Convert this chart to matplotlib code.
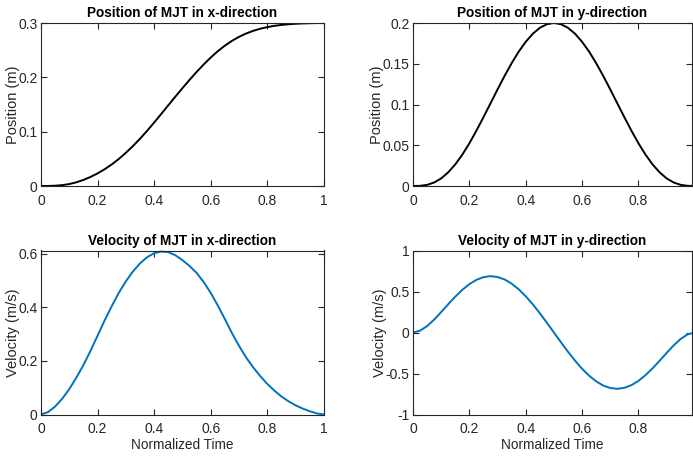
import matplotlib
matplotlib.use('Agg')
import matplotlib.pyplot as plt
import numpy as np

# normalized time samples (step 0.025)
t = [0.000, 0.025, 0.050, 0.075, 0.100, 0.125, 0.150, 0.175, 0.200, 0.225,
     0.250, 0.275, 0.300, 0.325, 0.350, 0.375, 0.400, 0.425, 0.450, 0.475,
     0.500, 0.525, 0.550, 0.575, 0.600, 0.625, 0.650, 0.675, 0.700, 0.725,
     0.750, 0.775, 0.800, 0.825, 0.850, 0.875, 0.900, 0.925, 0.950, 0.975, 1.000]

# position of the minimum jerk trajectory (m)
pos_x = [0.0, 0.0001, 0.0005, 0.0016, 0.0036, 0.0068, 0.0112, 0.0167, 0.0232, 0.0309,
         0.0397, 0.0498, 0.0612, 0.0736, 0.0871, 0.1016, 0.1169, 0.1327, 0.1487, 0.1646,
         0.1802, 0.1954, 0.2100, 0.2238, 0.2366, 0.2482, 0.2584, 0.2672, 0.2746, 0.2807,
         0.2856, 0.2895, 0.2925, 0.2948, 0.2965, 0.2977, 0.2986, 0.2992, 0.2996, 0.2999, 0.300]
pos_y = [0.0, 0.0002, 0.0014, 0.0043, 0.0093, 0.0168, 0.0265, 0.0385, 0.0524, 0.0679,
         0.0844, 0.1014, 0.1185, 0.1351, 0.1507, 0.1648, 0.1769, 0.1868, 0.1941, 0.1985,
         0.2000, 0.1985, 0.1941, 0.1868, 0.1769, 0.1648, 0.1507, 0.1351, 0.1185, 0.1014,
         0.0844, 0.0679, 0.0524, 0.0385, 0.0265, 0.0168, 0.0093, 0.0043, 0.0014, 0.0002, 0.0]

# velocity (m/s)
vel_x = [0.0, 0.009, 0.030, 0.059, 0.095, 0.138, 0.185, 0.238, 0.295, 0.352,
         0.405, 0.455, 0.498, 0.535, 0.565, 0.588, 0.603, 0.609, 0.607, 0.595,
         0.577, 0.555, 0.529, 0.495, 0.454, 0.407, 0.356, 0.304, 0.256, 0.213,
         0.176, 0.143, 0.114, 0.089, 0.067, 0.049, 0.034, 0.022, 0.012, 0.004, 0.0]
vel_y = [0.0, 0.022, 0.078, 0.157, 0.249, 0.345, 0.437, 0.520, 0.590, 0.642,
         0.675, 0.687, 0.677, 0.647, 0.596, 0.527, 0.442, 0.344, 0.235, 0.119,
         0.0, -0.119, -0.235, -0.344, -0.442, -0.527, -0.596, -0.647, -0.677, -0.687,
         -0.675, -0.642, -0.590, -0.520, -0.437, -0.345, -0.249, -0.157, -0.078, -0.022, 0.0]

txt = '#262626'
blue = '#0072BD'
plt.rcParams['font.family'] = ['Liberation Sans', 'DejaVu Sans']
plt.rcParams['font.size'] = 10

fig = plt.figure(figsize=(6.93, 4.57), dpi=100)
W, H = 693, 457
def box(x0, y0, x1, y1):
    return [x0 / W, 1 - y1 / H, (x1 - x0) / W, (y1 - y0) / H]

ax1 = fig.add_axes(box(41, 23, 324, 186))
ax2 = fig.add_axes(box(413, 23, 692, 186))
ax3 = fig.add_axes(box(41, 250.5, 324, 414.5))
ax4 = fig.add_axes(box(413, 250.5, 692, 414.5))

ax1.plot(t, pos_x, c='k', lw=1.4)
ax2.plot(t, pos_y, c='k', lw=1.4)
ax3.plot(t, vel_x, c=blue, lw=1.4)
ax4.plot(t, vel_y, c=blue, lw=1.4)

titles = ['Position of MJT in x-direction', 'Position of MJT in y-direction',
          'Velocity of MJT in x-direction', 'Velocity of MJT in y-direction']
ylabels = ['Position (m)', 'Position (m)', 'Velocity (m/s)', 'Velocity (m/s)']

for ax, ttl, yl in zip([ax1, ax2, ax3, ax4], titles, ylabels):
    ax.set_title(ttl, fontsize=9.8, fontweight='bold', color='k', pad=4)
    ax.set_ylabel(yl, fontsize=10.5, color=txt, labelpad=-1)
    ax.tick_params(direction='in', top=True, right=True, length=4, width=0.8,
                   colors=txt, labelsize=10)
    ax.tick_params(axis='y', pad=2.5)
    ax.tick_params(axis='x', pad=5.5)
    for s in ax.spines.values():
        s.set_color(txt)
        s.set_linewidth(0.8)

ax1.set_xlim(0, 1)
ax1.set_ylim(0, 0.3)
ax1.set_xticks([0, 0.2, 0.4, 0.6, 0.8, 1])
ax1.set_xticklabels(['0', '0.2', '0.4', '0.6', '0.8', '1'])
ax1.set_yticks([0, 0.1, 0.2, 0.3])
ax1.set_yticklabels(['0', '0.1', '0.2', '0.3'])

ax2.set_xlim(0, 0.99)
ax2.set_ylim(0, 0.2)
ax2.set_xticks([0, 0.2, 0.4, 0.6, 0.8])
ax2.set_xticklabels(['0', '0.2', '0.4', '0.6', '0.8'])
ax2.set_yticks([0, 0.05, 0.1, 0.15, 0.2])
ax2.set_yticklabels(['0', '0.05', '0.1', '0.15', '0.2'])

ax3.set_xlim(0, 1)
ax3.set_ylim(0, 0.613)
ax3.set_xticks([0, 0.2, 0.4, 0.6, 0.8, 1])
ax3.set_xticklabels(['0', '0.2', '0.4', '0.6', '0.8', '1'])
ax3.set_yticks([0, 0.2, 0.4, 0.6])
ax3.set_yticklabels(['0', '0.2', '0.4', '0.6'])
ax3.set_xlabel('Normalized Time', fontsize=9.8, color=txt, labelpad=1)

ax4.set_xlim(0, 0.99)
ax4.set_ylim(-1, 1)
ax4.set_xticks([0, 0.2, 0.4, 0.6, 0.8])
ax4.set_xticklabels(['0', '0.2', '0.4', '0.6', '0.8'])
ax4.set_yticks([-1, -0.5, 0, 0.5, 1])
ax4.set_yticklabels(['-1', '-0.5', '0', '0.5', '1'])
ax4.set_xlabel('Normalized Time', fontsize=9.8, color=txt, labelpad=1)

fig.savefig('out.png', dpi=100)
